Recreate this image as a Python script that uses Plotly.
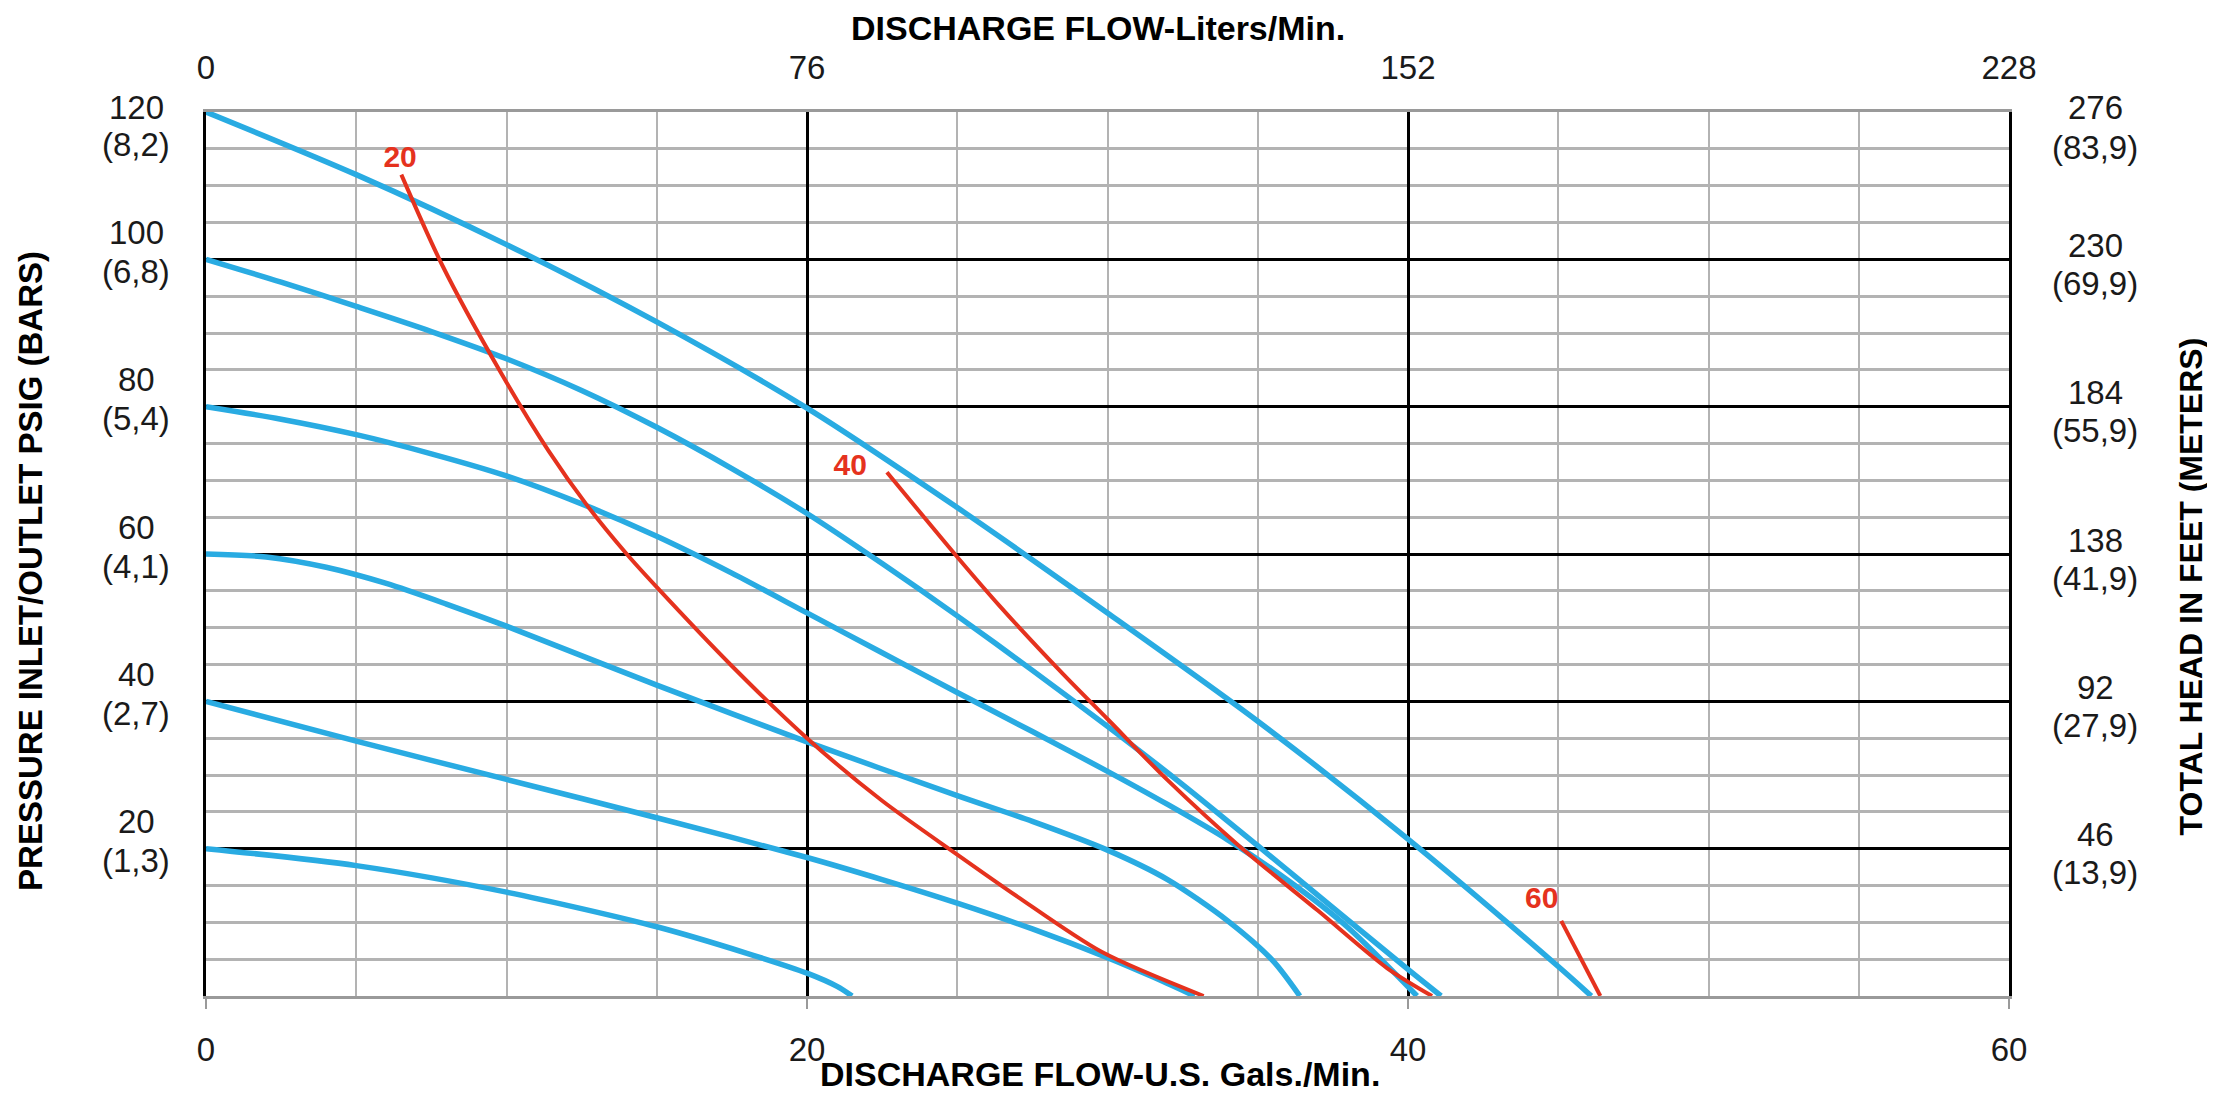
import plotly.graph_objects as go

# ---------------- data ----------------
# blue curves: performance at constant air inlet pressure (GPM, PSIG)
blue1_x = [0, 5, 10, 15, 20, 25, 30, 35, 40, 45, 46.1]
blue1_y = [120, 111.5, 102.0, 91.5, 79.8, 66.3, 52.0, 37.3, 21.3, 4.0, 0]

blue2_x = [0, 2.5, 5, 7.5, 10, 12.5, 15, 17.5, 20, 22.5, 25, 27.5, 30, 32.5, 35, 37.5, 40, 41.1]
blue2_y = [100, 96.9, 93.6, 90.2, 86.5, 82.2, 77.2, 71.6, 65.5, 58.7, 51.6, 44.2, 36.6,
           28.7, 20.4, 12.0, 3.6, 0]

blue3_x = [0, 2.5, 5, 7.5, 10, 12.5, 15, 17.5, 20, 22.5, 25, 27.5, 30, 32, 34, 36, 38, 40.3]
blue3_y = [80, 78.3, 76.2, 73.6, 70.6, 66.8, 62.4, 57.4, 52.0, 46.6, 41.2, 35.9, 30.5,
           26.0, 21.2, 15.7, 9.3, 0]

blue4_x = [0, 2, 4, 6, 8, 10, 15, 20, 25, 27.5, 30, 32, 34, 35.5, 36.4]
blue4_y = [60, 59.6, 58.2, 56.0, 53.2, 50.2, 42.2, 34.5, 27.2, 23.7, 19.8, 15.8, 10.2, 4.8, 0]

blue5_x = [0, 5, 10, 15, 20, 22.5, 25, 27.5, 30, 31.5, 32.9]
blue5_y = [40, 34.6, 29.4, 24.2, 18.8, 15.8, 12.6, 9.1, 5.2, 2.6, 0]

blue6_x = [0, 5, 10, 15, 18, 20, 21, 21.5]
blue6_y = [20, 17.7, 14.1, 9.4, 5.8, 3.1, 1.3, 0]

# red curves: air consumption (SCFM)
red20_x = [6.5, 7.85, 9.8, 11.4, 12.7, 14.0, 15, 17.5, 20, 22.5, 25, 27, 29.8, 33.2]
red20_y = [111.5, 99.3, 84.7, 74.0, 66.5, 60, 55.5, 44.8, 35, 26.5, 19.2, 13.5, 6.0, 0]

red40_x = [22.66, 25, 26.4, 28.5, 30, 32, 34.4, 37, 39.3, 40.8]
red40_y = [71.1, 59.6, 53, 43.8, 37.6, 29.3, 20.3, 11.6, 3.8, 0]

red60_x = [45.1, 46.4]
red60_y = [10.2, 0]

red_labels = ["20", "40", "60"]
red_label_x = [6.46, 21.44, 44.45]
red_label_y = [113.6, 71.8, 12.9]

# axis ticks
gpm_ticks = [0, 20, 40, 60]
lpm_ticktext = ["0", "76", "152", "228"]
psi_vals = [120, 100, 80, 60, 40, 20]
psi_text = ["120", "100", "80", "60", "40", "20"]
bar_text = ["(8,2)", "(6,8)", "(5,4)", "(4,1)", "(2,7)", "(1,3)"]
feet_text = ["276", "230", "184", "138", "92", "46"]
meter_text = ["(83,9)", "(69,9)", "(55,9)", "(41,9)", "(27,9)", "(13,9)"]

# ---------------- styling ----------------
BLUE = "#29ABE2"
RED = "#E5321E"
GRAY = "#B3B3B3"
FONT = "Liberation Sans, Arial, sans-serif"
TXT = "#1a1a1a"
SMOOTH = 0.8

fig = go.Figure()

for bx, by in [(blue1_x, blue1_y), (blue2_x, blue2_y), (blue3_x, blue3_y),
               (blue4_x, blue4_y), (blue5_x, blue5_y), (blue6_x, blue6_y)]:
    fig.add_trace(go.Scatter(x=bx, y=by, mode="lines",
                             line=dict(color=BLUE, width=5.5, shape="spline", smoothing=SMOOTH),
                             showlegend=False, hoverinfo="skip"))

for rx, ry in [(red20_x, red20_y), (red40_x, red40_y), (red60_x, red60_y)]:
    fig.add_trace(go.Scatter(x=rx, y=ry, mode="lines",
                             line=dict(color=RED, width=4, shape="spline", smoothing=SMOOTH),
                             showlegend=False, hoverinfo="skip"))

fig.add_trace(go.Scatter(x=red_label_x, y=red_label_y, mode="text", text=red_labels,
                         textfont=dict(family=FONT, size=30, color=RED, weight="bold"),
                         showlegend=False, hoverinfo="skip"))

# dummy trace to carry the top (L/min) axis
fig.add_trace(go.Scatter(x=[0, 60], y=[0, 0], xaxis="x2", mode="lines",
                         line=dict(width=0), opacity=0, showlegend=False, hoverinfo="skip"))

# the page body has an 8px margin: the figure is sized/offset so the plot area
# lands where the reference has it and the figure ends at the window edge
fig.update_layout(
    width=2207, height=1085,
    margin=dict(l=198, r=206, t=104, b=97),
    paper_bgcolor="white", plot_bgcolor="white",
    font=dict(family=FONT, color=TXT),
    xaxis=dict(range=[0, 60], tickvals=gpm_ticks, ticktext=[str(v) for v in gpm_ticks],
               showgrid=True, gridcolor="black", gridwidth=3,
               minor=dict(dtick=5, tick0=0, showgrid=True, gridcolor=GRAY, gridwidth=2,
                          ticks=""),
               ticks="outside", ticklen=10, tickwidth=2, tickcolor="#9a9a9a",
               tickfont=dict(size=33, color=TXT), ticklabelstandoff=12,
               showline=True, linecolor="#9a9a9a", linewidth=3, mirror=True,
               zeroline=False, fixedrange=True),
    xaxis2=dict(range=[0, 60], overlaying="x", side="top", tickvals=gpm_ticks,
                ticktext=lpm_ticktext, showgrid=False, ticks="", showline=False,
                tickfont=dict(size=33, color=TXT), ticklabelstandoff=25,
                zeroline=False, fixedrange=True),
    yaxis=dict(range=[0, 120], tickvals=[20, 40, 60, 80, 100], showticklabels=False,
               showgrid=True, gridcolor="black", gridwidth=3,
               minor=dict(dtick=5, tick0=0, showgrid=True, gridcolor=GRAY, gridwidth=3,
                          ticks=""),
               ticks="", showline=True, linecolor="black", linewidth=3, mirror=True,
               zeroline=False, fixedrange=True),
)

ann = []
# left (psi / bar) labels
for i, v in enumerate(psi_vals):
    s1, s2 = (27, -12) if v != 120 else (5, -32)
    ann.append(dict(x=-0.0388, xref="paper", y=v, yref="y", yshift=s1, text=psi_text[i],
                    showarrow=False, xanchor="center", yanchor="middle",
                    font=dict(size=33, color=TXT)))
    ann.append(dict(x=-0.0388, xref="paper", y=v, yref="y", yshift=s2, text=bar_text[i],
                    showarrow=False, xanchor="center", yanchor="middle",
                    font=dict(size=33, color=TXT)))
# right (feet / meters) labels
for i, v in enumerate(psi_vals):
    s1, s2 = (14, -24) if v != 120 else (5, -35)
    ann.append(dict(x=1.0477, xref="paper", y=v, yref="y", yshift=s1, text=feet_text[i],
                    showarrow=False, xanchor="center", yanchor="middle",
                    font=dict(size=33, color=TXT)))
    ann.append(dict(x=1.0477, xref="paper", y=v, yref="y", yshift=s2, text=meter_text[i],
                    showarrow=False, xanchor="center", yanchor="middle",
                    font=dict(size=33, color=TXT)))

TITLE_FONT = dict(family=FONT, size=34, color="black", weight="bold")
ann += [
    dict(text="DISCHARGE FLOW-Liters/Min.", x=0.4947, y=1.095, xref="paper", yref="paper",
         showarrow=False, xanchor="center", yanchor="middle", font=TITLE_FONT),
    dict(text="DISCHARGE FLOW-U.S. Gals./Min.", x=0.4958, y=-0.0885, xref="paper",
         yref="paper", showarrow=False, xanchor="center", yanchor="middle", font=TITLE_FONT),
    dict(text="PRESSURE INLET/OUTLET PSIG (BARS)", x=-0.0971, y=0.4808, xref="paper",
         yref="paper", showarrow=False, xanchor="center", yanchor="middle", textangle=-90,
         font=dict(family=FONT, size=33, color="black", weight="bold")),
    dict(text="TOTAL HEAD IN FEET (METERS)", x=1.1012, y=0.4638, xref="paper",
         yref="paper", showarrow=False, xanchor="center", yanchor="middle", textangle=-90,
         font=dict(family=FONT, size=32, color="black", weight="bold")),
]
fig.update_layout(annotations=ann)

fig.write_html("out.html")
